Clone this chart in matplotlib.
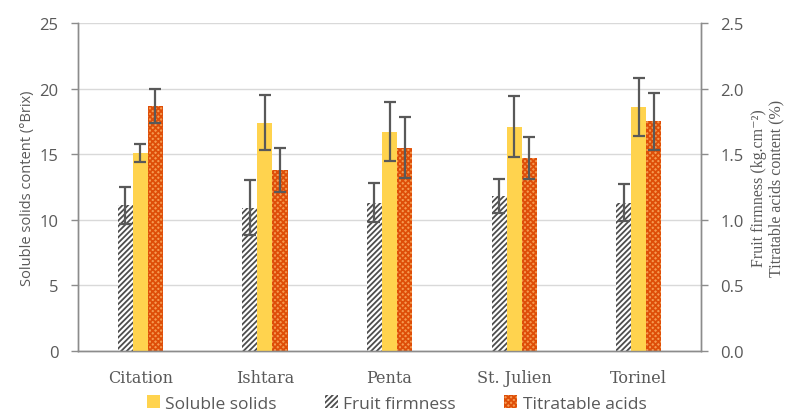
import numpy as np
import matplotlib
matplotlib.use('Agg')
import matplotlib.pyplot as plt
from matplotlib.patches import Patch

cultivars = ['Citation', 'Ishtara', 'Penta', 'St. Julien', 'Torinel']

# soluble solids (°Brix), left axis
soluble = [15.1, 17.4, 16.7, 17.1, 18.6]
soluble_err = [0.67, 2.1, 2.25, 2.3, 2.2]

# fruit firmness (kg.cm-2) and titratable acids (%), right axis
firmness = [1.11, 1.09, 1.13, 1.18, 1.13]
firmness_err = [0.14, 0.21, 0.15, 0.13, 0.14]
acids = [1.87, 1.38, 1.55, 1.47, 1.75]
acids_err = [0.13, 0.165, 0.23, 0.16, 0.22]

sans = ['Open Sans', 'DejaVu Sans']
serif = ['DejaVu Serif']
grey = '#595959'
axis_grey = '#8c8c8c'

fig = plt.figure(figsize=(7.93, 4.14), dpi=100)
ax = fig.add_axes([0.0984, 0.150, 0.7856, 0.792])
ax2 = ax.twinx()

x = np.arange(len(cultivars))
w = 0.121
ekw = dict(ecolor=grey, elinewidth=1.6, capsize=4, capthick=1.6)

plt.rcParams['hatch.linewidth'] = 1.3

ax2.bar(x - w, firmness, w, yerr=firmness_err, color='white', edgecolor='#4d4d4d',
        hatch='//////', linewidth=0, error_kw=ekw, zorder=2)
ax.bar(x, soluble, w, yerr=soluble_err, color='#FFD34E', linewidth=0,
       error_kw=ekw, zorder=2)
ax2.bar(x + w, acids, w, yerr=acids_err, color='#F59A50', edgecolor='#DE4E08',
        hatch='xxxxxx', linewidth=0, error_kw=ekw, zorder=2)

ax.set_xlim(-0.5, len(cultivars) - 0.5)
ax.set_ylim(0, 25)
ax2.set_ylim(0, 2.5)
ax.set_yticks(np.arange(0, 26, 5))
ax2.set_yticks(np.arange(0, 2.51, 0.5))
ax2.set_yticklabels(['%.1f' % v for v in np.arange(0, 2.51, 0.5)])

ax.set_xticks(x)
ax.set_xticklabels(cultivars, fontfamily=serif, fontsize=11.5, color=grey)
ax.tick_params(axis='x', length=0, pad=13)

# grid lives on the back axes so the bars cover it
ax2.yaxis.grid(True, color='#d9d9d9', linewidth=1)
ax2.set_axisbelow(True)
ax.set_zorder(ax2.get_zorder() + 1)
ax.patch.set_visible(False)

for a in (ax, ax2):
    a.spines['top'].set_visible(False)
    for s in ('left', 'right', 'bottom'):
        a.spines[s].set_color(axis_grey)
        a.spines[s].set_linewidth(1)
    a.tick_params(axis='y', length=5, width=1, color=axis_grey, labelcolor=grey,
                  labelsize=12, pad=9)
    for lab in a.get_yticklabels():
        lab.set_fontfamily(sans)

ax.set_ylabel('Soluble solids content (°Brix)', fontfamily=sans, fontsize=10.5,
              color=grey, labelpad=3)
ax2.set_ylabel('Fruit firmness (kg.cm⁻²)\nTitratable acids content (%)',
               fontfamily=['Liberation Serif', 'DejaVu Serif'], fontsize=11.5,
               color=grey, labelpad=5, linespacing=1.15)

handles = [Patch(facecolor='#FFD34E', linewidth=0, label='Soluble solids'),
           Patch(facecolor='white', edgecolor='#4d4d4d', hatch='//////',
                 linewidth=0, label='Fruit firmness'),
           Patch(facecolor='#F59A50', edgecolor='#DE4E08', hatch='xxxxxx',
                 linewidth=0, label='Titratable acids')]
fig.legend(handles=handles, loc='lower center', bbox_to_anchor=(0.5, -0.035),
           ncol=3, frameon=False, prop={'family': sans, 'size': 12.5},
           labelcolor=grey, handlelength=0.75, handleheight=0.75,
           handletextpad=0.3, columnspacing=2.8)

fig.savefig('out.png', dpi=100)
